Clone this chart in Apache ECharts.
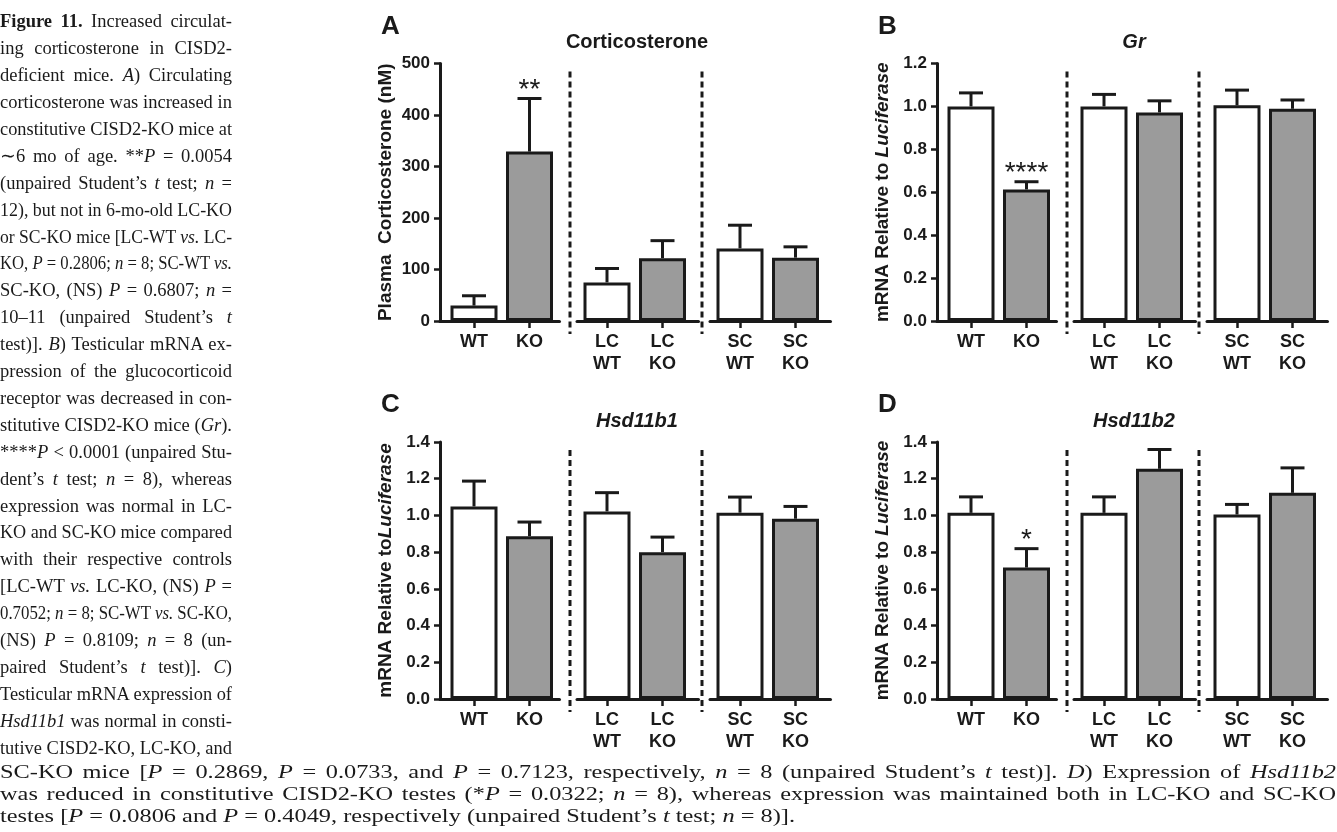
<!DOCTYPE html>
<html><head><meta charset="utf-8">
<script src="https://cdn.jsdelivr.net/npm/echarts@6/dist/echarts.min.js"></script>
<style>
html,body{margin:0;padding:0;background:#fff;width:1337px;height:832px;overflow:hidden}
#chart{position:absolute;left:0;top:0;width:1337px;height:832px}
.cap{position:absolute;left:0;white-space:nowrap;font-family:'Liberation Serif','Times New Roman',serif;font-size:18.5px;line-height:26.9px;color:#1a1a1a;transform-origin:0 0}
</style></head><body>
<div id="chart"></div>
<div id="caption"></div>
<script>
// ---------------- DATA ----------------
const categories = ['WT', 'KO', 'LC\nWT', 'LC\nKO', 'SC\nWT', 'SC\nKO'];

const corticosteroneMean = [30, 329, 75, 122, 141, 123];
const corticosteroneSEM  = [19, 103, 27, 34, 45, 21];
const corticosteroneStars = ['', '**', '', '', '', ''];
const corticosteroneTicks = [0, 100, 200, 300, 400, 500];

const grMean = [1.00, 0.613, 1.00, 0.972, 1.005, 0.989];
const grSEM  = [0.063, 0.036, 0.056, 0.054, 0.071, 0.041];
const grStars = ['', '****', '', '', '', ''];
const grTicks = [0.0, 0.2, 0.4, 0.6, 0.8, 1.0, 1.2];

const hsd11b1Mean = [1.049, 0.887, 1.022, 0.800, 1.015, 0.982];
const hsd11b1SEM  = [0.138, 0.077, 0.102, 0.082, 0.085, 0.067];
const hsd11b1Stars = ['', '', '', '', '', ''];
const hsd11b1Ticks = [0.0, 0.2, 0.4, 0.6, 0.8, 1.0, 1.2, 1.4];

const hsd11b2Mean = [1.014, 0.716, 1.014, 1.254, 1.005, 1.123];
const hsd11b2SEM  = [0.087, 0.103, 0.087, 0.105, 0.055, 0.136];
const hsd11b2Stars = ['', '*', '', '', '', ''];
const hsd11b2Ticks = [0.0, 0.2, 0.4, 0.6, 0.8, 1.0, 1.2, 1.4];

// ---------------- CAPTION TEXT ----------------
const captionColumn = [
  '<b>Figure 11.</b> Increased circulat-',
  'ing corticosterone in CISD2-',
  'deficient mice. <i>A</i>) Circulating',
  'corticosterone was increased in',
  'constitutive CISD2-KO mice at',
  '∼6 mo of age. **<i>P</i> = 0.0054',
  '(unpaired Student’s <i>t</i> test; <i>n</i> =',
  '12), but not in 6-mo-old LC-KO',
  'or SC-KO mice [LC-WT <i>vs.</i> LC-',
  'KO, <i>P</i> = 0.2806; <i>n</i> = 8; SC-WT <i>vs.</i>',
  'SC-KO, (NS) <i>P</i> = 0.6807; <i>n</i> =',
  '10–11 (unpaired Student’s <i>t</i>',
  'test)]. <i>B</i>) Testicular mRNA ex-',
  'pression of the glucocorticoid',
  'receptor was decreased in con-',
  'stitutive CISD2-KO mice (<i>Gr</i>).',
  '****<i>P</i> &lt; 0.0001 (unpaired Stu-',
  'dent’s <i>t</i> test; <i>n</i> = 8), whereas',
  'expression was normal in LC-',
  'KO and SC-KO mice compared',
  'with their respective controls',
  '[LC-WT <i>vs.</i> LC-KO, (NS) <i>P</i> =',
  '0.7052; <i>n</i> = 8; SC-WT <i>vs.</i> SC-KO,',
  '(NS) <i>P</i> = 0.8109; <i>n</i> = 8 (un-',
  'paired Student’s <i>t</i> test)]. <i>C</i>)',
  'Testicular mRNA expression of',
  '<i>Hsd11b1</i> was normal in consti-',
  'tutive CISD2-KO, LC-KO, and'
];
const captionBottom = [
  'SC-KO mice [<i>P</i> = 0.2869, <i>P</i> = 0.0733, and <i>P</i> = 0.7123, respectively, <i>n</i> = 8 (unpaired Student’s <i>t</i> test)]. <i>D</i>) Expression of <i>Hsd11b2</i>',
  'was reduced in constitutive CISD2-KO testes (*<i>P</i> = 0.0322; <i>n</i> = 8), whereas expression was maintained both in LC-KO and SC-KO',
  'testes [<i>P</i> = 0.0806 and <i>P</i> = 0.4049, respectively (unpaired Student’s <i>t</i> test; <i>n</i> = 8)].'
];

// ---------------- LAYOUT ----------------
const FONT = "'Liberation Sans', Arial, Helvetica, sans-serif";
const INK = '#1a1a1a';
const colX = [440, 937];          // y-axis x position of left / right panels
const rowTop = [63.5, 442];       // top of value axis
const rowH = [257.5, 257];
const segStart = [0, 137, 270];   // start of each group segment relative to y-axis
const padL = [34, 30, 30], padR = [30, 36, 35], SP = 55.5;
const dashX = [130, 262];

const panels = [
  {letter: 'A', title: 'Corticosterone', italic: false, mean: corticosteroneMean, sem: corticosteroneSEM, stars: corticosteroneStars, ticks: corticosteroneTicks, dec: 0,
   yName: 'Plasma  Corticosterone (nM)', col: 0, row: 0},
  {letter: 'B', title: 'Gr', italic: true, mean: grMean, sem: grSEM, stars: grStars, ticks: grTicks, dec: 1,
   yName: '{a|mRNA Relative to }{b|Luciferase}', col: 1, row: 0},
  {letter: 'C', title: 'Hsd11b1', italic: true, mean: hsd11b1Mean, sem: hsd11b1SEM, stars: hsd11b1Stars, ticks: hsd11b1Ticks, dec: 1,
   yName: '{a|mRNA Relative to}{b|Luciferase}', col: 0, row: 1},
  {letter: 'D', title: 'Hsd11b2', italic: true, mean: hsd11b2Mean, sem: hsd11b2SEM, stars: hsd11b2Stars, ticks: hsd11b2Ticks, dec: 1,
   yName: '{a|mRNA Relative to }{b|Luciferase}', col: 1, row: 1}
];

const grid = [], xAxis = [], yAxis = [], series = [], graphic = [];

panels.forEach((p, pi) => {
  const x0 = colX[p.col], top = rowTop[p.row], h = rowH[p.row];
  const ymin = p.ticks[0], ymax = p.ticks[p.ticks.length - 1], yint = p.ticks[1] - p.ticks[0];
  for (let s = 0; s < 3; s++) {
    const g = pi * 3 + s;
    grid.push({left: x0 + segStart[s], top: top, width: padL[s] + SP + padR[s], height: h, containLabel: false});
    xAxis.push({
      gridIndex: g, type: 'value', min: -padL[s] / SP, max: 1 + padR[s] / SP,
      axisLine: {show: true, onZero: false, lineStyle: {color: INK, width: 3}},
      axisTick: {show: true, customValues: [0, 1], length: 7, lineStyle: {color: INK, width: 2.5}},
      axisLabel: {customValues: [0, 1], formatter: v => categories[s * 2 + Math.round(v)],
        color: INK, fontFamily: FONT, fontWeight: 'bold', fontSize: 18, lineHeight: 22, margin: 10},
      splitLine: {show: false}
    });
    yAxis.push({
      gridIndex: g, type: 'value', min: ymin, max: ymax, interval: yint, show: s === 0,
      axisLine: {show: true, onZero: false, lineStyle: {color: INK, width: 3}},
      axisTick: {show: true, length: 6, lineStyle: {color: INK, width: 2.5}},
      axisLabel: {formatter: v => v.toFixed(p.dec), color: INK, fontFamily: FONT, fontWeight: 'bold', fontSize: 17, margin: 10},
      splitLine: {show: false},
      name: s === 0 ? p.yName : '', nameLocation: 'middle', nameGap: 45,
      nameTextStyle: {color: INK, fontFamily: FONT, fontWeight: 'bold', fontSize: 19,
        rich: {a: {color: INK, fontFamily: FONT, fontWeight: 'bold', fontSize: 19},
               b: {color: INK, fontFamily: FONT, fontWeight: 'bold', fontStyle: 'italic', fontSize: 19}}}
    });
    const m0 = p.mean[2 * s], m1 = p.mean[2 * s + 1];
    const e0 = p.sem[2 * s], e1 = p.sem[2 * s + 1];
    series.push({
      type: 'bar', xAxisIndex: g, yAxisIndex: g, barWidth: 47, silent: true,
      itemStyle: {borderColor: INK, borderWidth: 3},
      data: [{value: [0, m0], itemStyle: {color: '#ffffff'}}, {value: [1, m1], itemStyle: {color: '#9b9b9b'}}]
    });
    const stars = [p.stars[2 * s], p.stars[2 * s + 1]];
    series.push({
      type: 'custom', xAxisIndex: g, yAxisIndex: g, z: 5, silent: true,
      data: [[0, m0, e0], [1, m1, e1]],
      encode: {x: 0, y: 1},
      renderItem: (params, api) => {
        const x = api.value(0), m = api.value(1), e = api.value(2);
        const b = api.coord([x, m]), t = api.coord([x, m + e]);
        const ch = [
          {type: 'line', shape: {x1: b[0], y1: b[1], x2: t[0], y2: t[1]}, style: {stroke: INK, lineWidth: 3}},
          {type: 'line', shape: {x1: t[0] - 12, y1: t[1], x2: t[0] + 12, y2: t[1]}, style: {stroke: INK, lineWidth: 3}}
        ];
        const st = stars[params.dataIndex];
        if (st) ch.push({type: 'text', style: {text: st, x: t[0], y: t[1] - 8, align: 'center', verticalAlign: 'middle',
          font: "28px 'Liberation Sans', Arial, sans-serif", fill: INK}});
        return {type: 'group', children: ch};
      }
    });
  }
  dashX.forEach(dx => {
    graphic.push({type: 'line', silent: true, shape: {x1: x0 + dx, y1: top + 8, x2: x0 + dx, y2: top + h + 13},
      style: {stroke: INK, lineWidth: 3, lineDash: [6, 4]}});
  });
  graphic.push({type: 'text', silent: true, x: x0 + 197, y: top - 21,
    style: {text: p.title, align: 'center', verticalAlign: 'middle', fill: INK,
      font: (p.italic ? 'italic ' : '') + "bold 20px 'Liberation Sans', Arial, sans-serif"}});
  graphic.push({type: 'text', silent: true, x: x0 - 59, y: top - 37,
    style: {text: p.letter, align: 'left', verticalAlign: 'middle', fill: INK,
      font: "bold 26px 'Liberation Sans', Arial, sans-serif"}});
});

const chart = echarts.init(document.getElementById('chart'), null, {renderer: 'canvas'});
chart.setOption({animation: false, backgroundColor: 'transparent', grid, xAxis, yAxis, series, graphic});

// ---------------- CAPTION RENDER ----------------
const cap = document.getElementById('caption');
const BASE_OFF = 19.7;
function makeLine(html, baseline) {
  const d = document.createElement('div');
  d.className = 'cap';
  d.innerHTML = html;
  d.style.top = (baseline - BASE_OFF) + 'px';
  cap.appendChild(d);
  return d;
}
function fit(d, target, scale) {
  const w = d.getBoundingClientRect().width;
  const spaces = (d.textContent.match(/ /g) || []).length;
  let sc = scale || 1;
  if (w * sc > target) sc = target / w;
  else if (spaces) d.style.wordSpacing = ((target / sc - w) / spaces) + 'px';
  if (sc !== 1) d.style.transform = 'scaleX(' + sc + ')';
}
captionColumn.forEach((l, i) => fit(makeLine(l, 28 + i * 26.9), 232, 1));
const b0 = makeLine(captionBottom[0], 779);
const b1 = makeLine(captionBottom[1], 801);
const b2 = makeLine(captionBottom[2], 823);
const bottomScale = 795 / b2.getBoundingClientRect().width;
b2.style.transform = 'scaleX(' + bottomScale + ')';
fit(b0, 1336, bottomScale);
fit(b1, 1336, bottomScale);
</script></body></html>
